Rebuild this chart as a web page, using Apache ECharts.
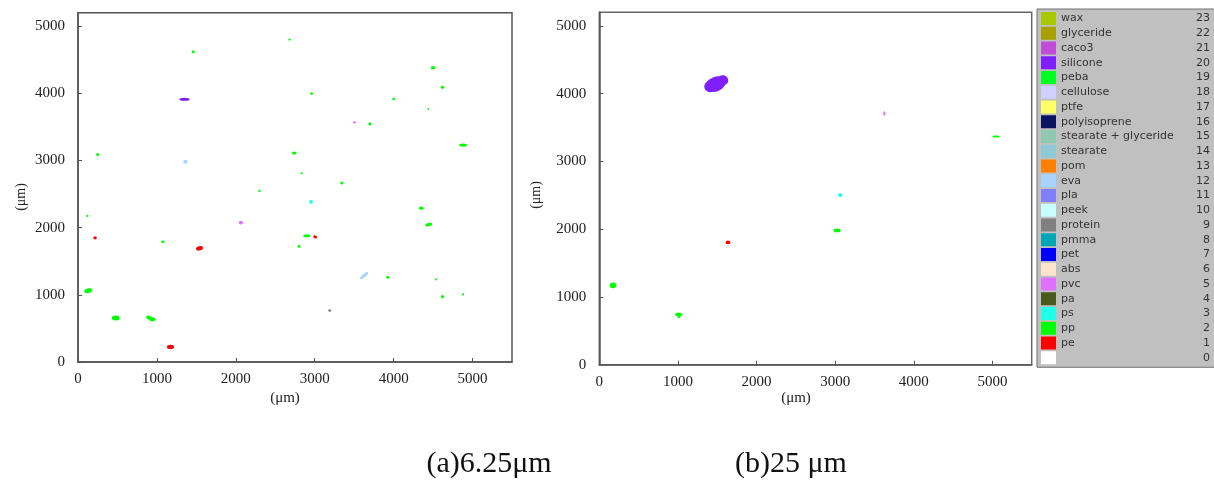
<!DOCTYPE html>
<html>
<head>
<meta charset="utf-8">
<script src="https://cdn.jsdelivr.net/npm/echarts@6/dist/echarts.min.js"></script>
<style>
html,body{margin:0;padding:0;background:#fff;}
#c{width:1214px;height:487px;}
</style>
</head>
<body>
<div id="c"></div>
<script>
// ---- Data ----
const classNames = ['wax','glyceride','caco3','silicone','peba','cellulose','ptfe','polyisoprene',
  'stearate + glyceride','stearate','pom','eva','pla','peek','protein','pmma','pet','abs','pvc',
  'pa','ps','pp','pe','background'];
const classIds = [23,22,21,20,19,18,17,16,15,14,13,12,11,10,9,8,7,6,5,4,3,2,1,0];
const classColors = ['#a8c800','#a8a000','#c04cd8','#7f1fff','#00ff22','#d0d0ff','#ffff66','#0a1460',
  '#8ec8b0','#8ecad6','#ff8000','#a6d4ff','#8080ff','#c8ffff','#808080','#00a6b4','#0000ff','#ffe4cc','#e070ff',
  '#4a5a1c','#20ffe8','#00ff00','#ff0000','#ffffff'];

// particles: [x (um), y (um), length (um), width (um), angle (deg), class id]
const particlesA = [
  [1460,4620,40,45,0,2],[2680,4800,30,32,0,2],[2960,3995,35,40,0,2],[4500,4380,60,50,0,2],
  [4620,4090,45,45,0,2],[4000,3915,35,40,0,2],[4440,3765,25,32,0,2],[3700,3545,40,45,0,2],
  [4880,3230,100,45,0,2],[250,3090,40,45,0,2],[2740,3112,60,45,0,2],[2835,2810,30,32,0,2],
  [3345,2665,40,45,0,2],[2300,2547,30,32,0,2],[4350,2290,60,50,0,2],[4445,2045,90,50,15,2],
  [118,2175,30,32,0,2],[1075,1790,45,40,0,2],[2900,1878,90,45,0,2],[2800,1720,38,40,0,2],
  [3925,1260,40,45,0,2],[4540,1230,28,32,0,2],[4620,972,40,50,0,2],[4880,1006,28,32,0,2],
  [130,1062,100,70,15,2],[478,655,100,75,0,2],[900,660,75,55,-20,2],[945,635,75,62,0,2],
  [216,1848,45,45,0,1],[1540,1692,90,62,15,1],[3005,1862,50,45,-20,1],[1172,225,90,62,0,1],
  [1350,3910,130,45,0,20],
  [1360,2980,55,60,0,12],[3625,1285,130,45,40,12],
  [2953,2384,50,55,0,3],
  [2064,2076,55,55,0,5],[3503,3568,35,35,0,5],
  [3190,768,38,38,0,9]
];
const particlesB = [
  [1480,4140,270,215,22,20],[1410,4105,150,170,0,20],[1570,4195,140,150,0,20],
  [3626,3707,28,65,0,5],
  [5047,3367,95,32,0,2],
  [3066,2502,55,55,0,3],
  [3024,1981,90,55,0,2],
  [1637,1804,60,55,0,1],
  [174,1172,85,85,0,2],
  [1010,742,90,55,0,2],[1015,712,38,48,0,2]
];
const xTicks = [0,1000,2000,3000,4000,5000];
const yTicks = [0,1000,2000,3000,4000,5000];
const axisTitle = '(\u03bcm)';
const captions = ['(a)6.25\u03bcm', '(b)25 \u03bcm'];

// ---- Chart ----
const chart = echarts.init(document.getElementById('c'), null, {renderer:'canvas'});

function renderParticle(params, api) {
  const c = api.coord([api.value(0), api.value(1)]);
  const s = api.size([api.value(2), api.value(3)]);
  return {
    type: 'circle',
    x: c[0], y: c[1],
    rotation: api.value(4) * Math.PI / 180,
    scaleX: Math.max(s[0], 1.8) / 2,
    scaleY: Math.max(s[1], 1.8) / 2,
    shape: {cx: 0, cy: 0, r: 1},
    style: {fill: api.visual('color')}
  };
}

const serif = 'Liberation Serif';
function makeX(gi) {
  return {
    type: 'value', gridIndex: gi, min: 0, max: 5500, interval: 1000,
    axisLine: {show: true, lineStyle: {color: '#555', width: 1.5}},
    axisTick: {show: true, inside: true, length: 4, lineStyle: {color: '#555', width: 1}},
    axisLabel: {show: true, margin: 10, fontFamily: serif, fontSize: 15, color: '#222',
      showMaxLabel: false, formatter: v => xTicks.includes(v) ? String(v) : ''},
    splitLine: {show: false}
  };
}
function makeY(gi) {
  return {
    type: 'value', gridIndex: gi, min: 0, max: 5200, interval: 1000,
    axisLine: {show: true, lineStyle: {color: '#555', width: 1.5}},
    axisTick: {show: true, inside: true, length: 4, lineStyle: {color: '#555', width: 1}},
    axisLabel: {show: true, margin: 13, fontFamily: serif, fontSize: 15, color: '#222',
      showMaxLabel: false, formatter: v => yTicks.includes(v) ? String(v) : ''},
    splitLine: {show: false}
  };
}

const series = [];
classNames.forEach((name, i) => {
  const id = classIds[i];
  series.push({
    type: 'custom', name: name, xAxisIndex: 0, yAxisIndex: 0,
    itemStyle: {color: classColors[i]},
    renderItem: renderParticle, clip: true,
    encode: {x: 0, y: 1},
    data: particlesA.filter(p => p[5] === id)
  });
  const b = particlesB.filter(p => p[5] === id);
  if (b.length) {
    series.push({
      type: 'custom', name: name, xAxisIndex: 1, yAxisIndex: 1,
      itemStyle: {color: classColors[i]},
      renderItem: renderParticle, clip: true,
      encode: {x: 0, y: 1},
      data: b
    });
  }
});

const option = {
  backgroundColor: '#fff',
  animation: false,
  grid: [
    {left: 78, top: 12.7, width: 434, height: 349.3, show: true, borderColor: '#555', borderWidth: 1.5, backgroundColor: '#fff'},
    {left: 599.3, top: 12.3, width: 432.4, height: 352.4, show: true, borderColor: '#666', borderWidth: 1.5, backgroundColor: '#fff'}
  ],
  xAxis: [makeX(0), makeX(1)],
  yAxis: [makeY(0), makeY(1)],
  legend: {
    orient: 'vertical', left: 1037, top: 9,
    padding: [3, 5, 3, 4],
    backgroundColor: '#c0c0c0', borderColor: '#707070', borderWidth: 1,
    itemWidth: 15, itemHeight: 13, itemGap: 1.75, itemTextGap: 3,
    icon: 'rect', selectedMode: false,
    itemStyle: {borderWidth: 0},
    data: classNames,
    textStyle: {fontFamily: 'DejaVu Sans', fontSize: 11, color: '#333',
      rich: {
        n: {width: 127, fontFamily: 'DejaVu Sans', fontSize: 11, color: '#333', lineHeight: 13},
        v: {width: 22, align: 'right', fontFamily: 'DejaVu Sans', fontSize: 11, color: '#333', lineHeight: 13}
      }},
    formatter: function (name) {
      const i = classNames.indexOf(name);
      const label = classIds[i] === 0 ? '\u00a0' : name;
      return '{n|' + label + '}{v|' + classIds[i] + '}';
    }
  },
  graphic: [
    {type: 'text', x: 285, y: 398, style: {text: axisTitle, font: '15px "Liberation Serif"', fill: '#222', textAlign: 'center', textVerticalAlign: 'middle'}},
    {type: 'text', x: 796, y: 398, style: {text: axisTitle, font: '15px "Liberation Serif"', fill: '#222', textAlign: 'center', textVerticalAlign: 'middle'}},
    {type: 'text', x: 21, y: 197, rotation: Math.PI / 2, style: {text: axisTitle, font: '14px "Liberation Serif"', fill: '#222', textAlign: 'center', textVerticalAlign: 'middle'}},
    {type: 'text', x: 536, y: 195, rotation: Math.PI / 2, style: {text: axisTitle, font: '14px "Liberation Serif"', fill: '#222', textAlign: 'center', textVerticalAlign: 'middle'}},
    {type: 'text', x: 489, y: 464, style: {text: captions[0], font: '30px "Liberation Serif"', fill: '#111', textAlign: 'center', textVerticalAlign: 'middle'}},
    {type: 'text', x: 791, y: 464, style: {text: captions[1], font: '30px "Liberation Serif"', fill: '#111', textAlign: 'center', textVerticalAlign: 'middle'}}
  ],
  series: series
};
chart.setOption(option);
</script>
</body>
</html>
